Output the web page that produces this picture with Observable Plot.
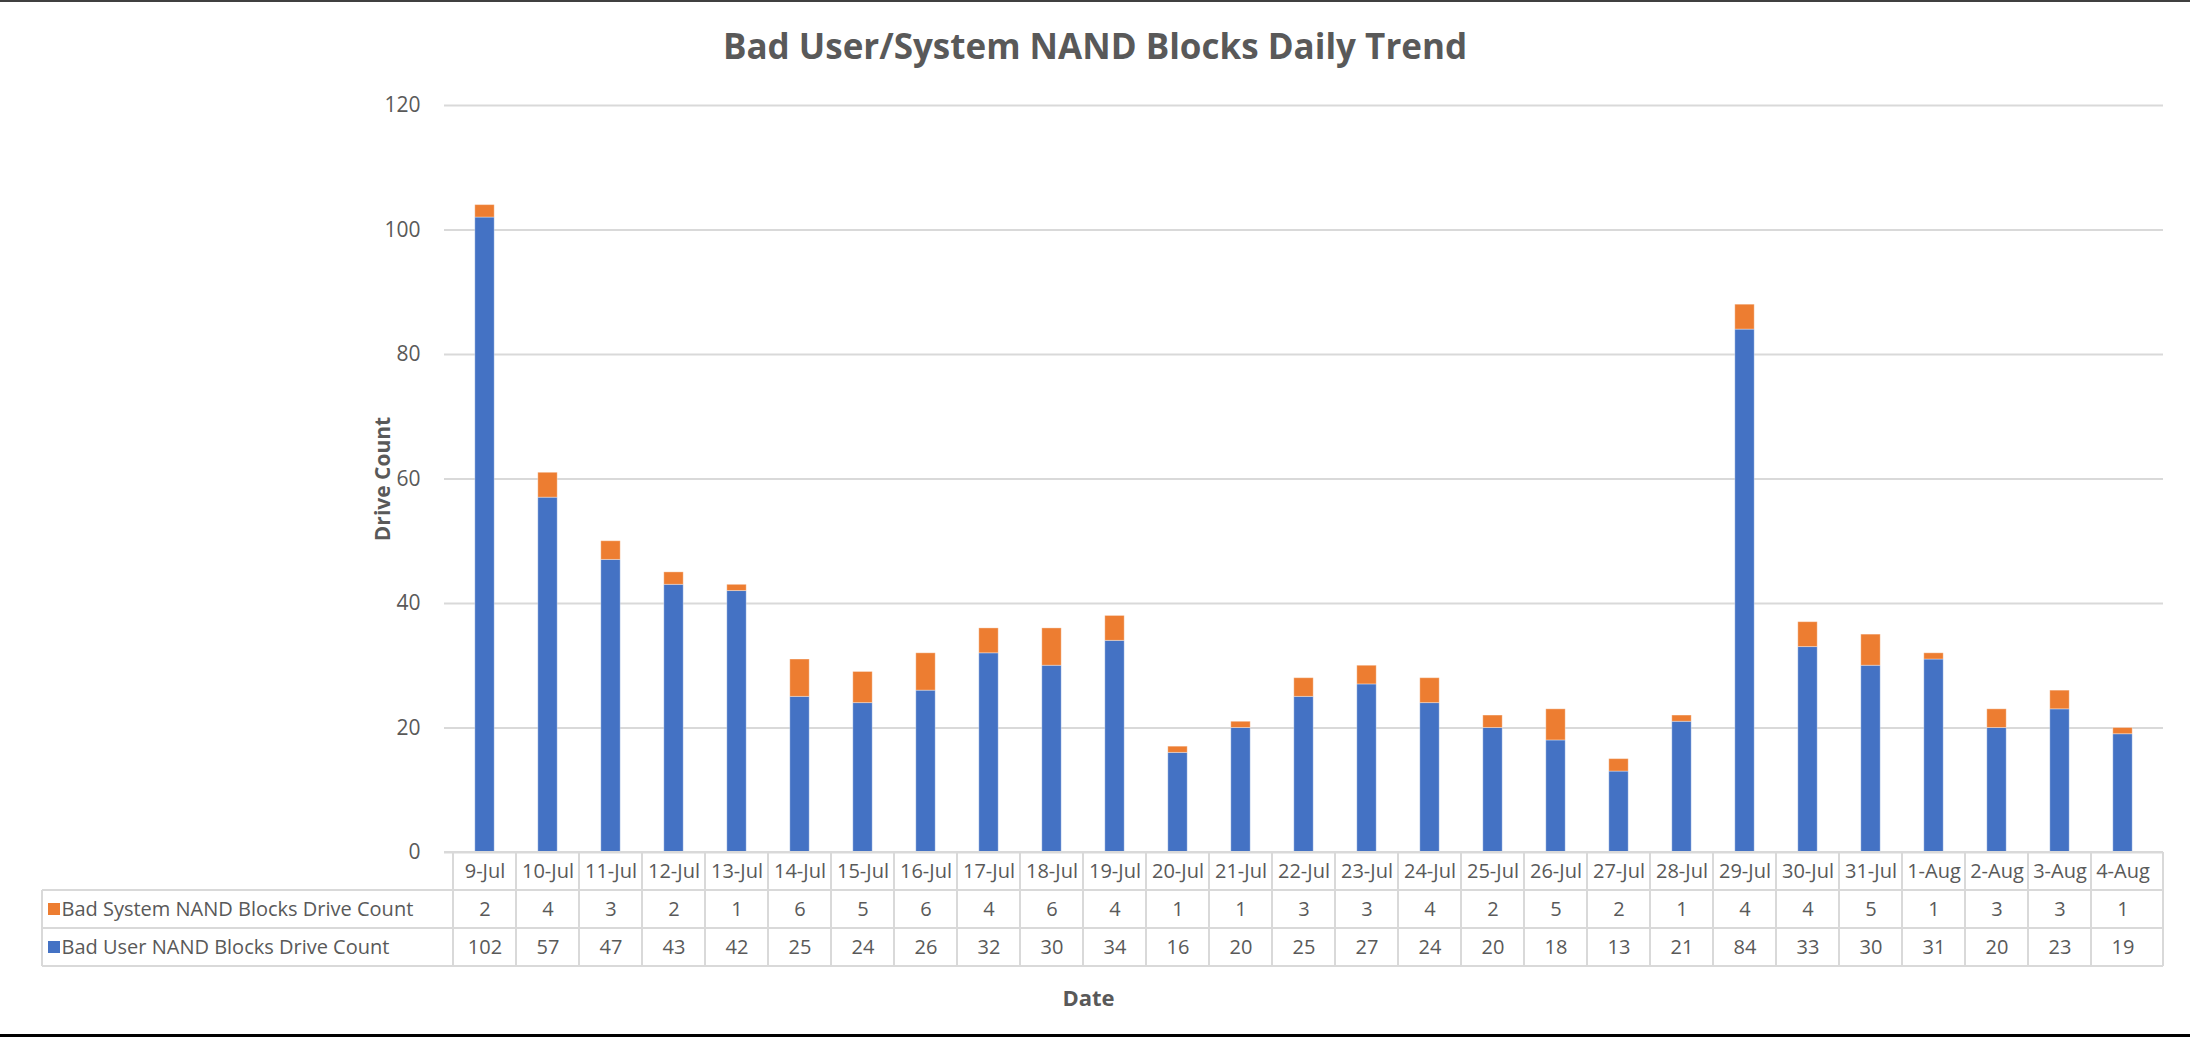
<!DOCTYPE html>
<html>
<head>
<meta charset="utf-8">
<script src="https://cdn.jsdelivr.net/npm/d3@7"></script>
<script src="https://cdn.jsdelivr.net/npm/@observablehq/plot@0.6"></script>
<style>
  html, body { margin: 0; padding: 0; background: #fff; overflow: hidden; }
  #wrap { position: relative; width: 2190px; height: 1038px; background: #fff; }
  #title { position: absolute; left: 1095px; top: 24px; transform: translateX(-50%); white-space: nowrap;
           font-family: "Open Sans", sans-serif; font-weight: bold; font-size: 35px; color: #595959; line-height: 44px; }
  #chart { position: absolute; left: 0; top: 90px; }
  .edge { position: absolute; left: 0; width: 2190px; }
</style>
</head>
<body>
<div id="wrap">
  <div class="edge" style="top:0;height:2px;background:#404040"></div>
  <div id="title">Bad User/System NAND Blocks Daily Trend</div>
  <div id="chart"></div>
  <div class="edge" style="top:1034px;height:3px;background:#000"></div>
</div>
<script>
const dates = ["9-Jul","10-Jul","11-Jul","12-Jul","13-Jul","14-Jul","15-Jul","16-Jul","17-Jul","18-Jul","19-Jul","20-Jul","21-Jul","22-Jul","23-Jul","24-Jul","25-Jul","26-Jul","27-Jul","28-Jul","29-Jul","30-Jul","31-Jul","1-Aug","2-Aug","3-Aug","4-Aug"];
const systemCounts = [2,4,3,2,1,6,5,6,4,6,4,1,1,3,3,4,2,5,2,1,4,4,5,1,3,3,1];
const userCounts = [102,57,47,43,42,25,24,26,32,30,34,16,20,25,27,24,20,18,13,21,84,33,30,31,20,23,19];
const seriesNames = ["Bad User NAND Blocks Drive Count", "Bad System NAND Blocks Drive Count"];
const seriesColors = ["#4472C4", "#ED7D31"];
const yTicks = [0, 20, 40, 60, 80, 100, 120];

const rows = [];
dates.forEach((d, i) => {
  rows.push({date: d, series: seriesNames[0], value: userCounts[i]});
  rows.push({date: d, series: seriesNames[1], value: systemCounts[i]});
});

const W = 2190, H = 948;
const mL = 444, mR = 27, mT = 15, mB = 186;
const rowH = 38;
const textColor = "#595959";
const lineColor = "#D9D9D9";
const fs = 20;

const tableText = (text, dy) => ({x: d => d, text, frameAnchor: "bottom", dy, lineAnchor: "middle", textAnchor: "middle", fontSize: fs, fill: textColor});

const chart = Plot.plot({
  width: W, height: H,
  marginLeft: mL, marginRight: mR, marginTop: mT, marginBottom: mB,
  style: {fontFamily: "Open Sans, sans-serif", fontSize: "20px", color: textColor, background: "white", overflow: "visible"},
  x: {domain: dates, padding: 0, axis: null},
  y: {domain: [0, 120], axis: null},
  color: {domain: seriesNames, range: seriesColors},
  marks: [
    Plot.gridY(yTicks, {stroke: lineColor, strokeOpacity: 1, strokeWidth: 2}),
    Plot.axisY(yTicks, {tickSize: 0, tickPadding: 24, label: null, fontSize: 21, fill: textColor}),
    Plot.barY(rows, Plot.stackY({order: null}, {x: "date", y: "value", fill: "series",
      insetLeft: 21.8, insetRight: 21.8, stroke: "white", strokeOpacity: 0.35, strokeWidth: 1})),
    // data table
    Plot.text(dates, tableText(d => d, rowH / 2)),
    Plot.text(dates, tableText((d, i) => systemCounts[i], rowH * 1.5)),
    Plot.text(dates, tableText((d, i) => userCounts[i], rowH * 2.5)),
    Plot.text([seriesNames[1]], {frameAnchor: "bottom-left", textAnchor: "start", lineAnchor: "middle", dx: 61 - mL, dy: rowH * 1.5, fontSize: fs, fill: textColor}),
    Plot.text([seriesNames[0]], {frameAnchor: "bottom-left", textAnchor: "start", lineAnchor: "middle", dx: 61 - mL, dy: rowH * 2.5, fontSize: fs, fill: textColor}),
    // axis titles
    Plot.text(["Drive Count"], {frameAnchor: "left", textAnchor: "middle", lineAnchor: "middle", rotate: -90, dx: -61, fontWeight: "bold", fontSize: 21, fill: textColor}),
    Plot.text(["Date"], {frameAnchor: "bottom", textAnchor: "middle", lineAnchor: "middle", dx: 1088 - (mL + (W - mR)) / 2, dy: 146, fontWeight: "bold", fontSize: 22, fill: textColor})
  ]
});

document.getElementById("chart").appendChild(chart);

// table grid lines from the x band scale
const xs = chart.scale("x");
const step = (xs.range[1] - xs.range[0]) / dates.length;
const xStart = d => (xs.apply ? xs.apply(d) : xs.range[0] + dates.indexOf(d) * step);
const yBottom = H - mB;
const tableLeft = 42;
const xEnd = W - mR;
const svg = d3.select(chart.tagName.toLowerCase() === "svg" ? chart : chart.querySelector("svg"));
const g = svg.append("g").attr("stroke", lineColor).attr("stroke-width", 2).attr("fill", "none");
[0, 1, 2, 3].forEach(k => {
  g.append("line").attr("x1", k === 0 ? mL : tableLeft).attr("x2", xEnd)
    .attr("y1", yBottom + k * rowH).attr("y2", yBottom + k * rowH);
});
dates.forEach(d => {
  const x = xStart(d);
  g.append("line").attr("x1", x).attr("x2", x).attr("y1", yBottom).attr("y2", yBottom + 3 * rowH);
});
g.append("line").attr("x1", xEnd).attr("x2", xEnd).attr("y1", yBottom).attr("y2", yBottom + 3 * rowH);
g.append("line").attr("x1", tableLeft).attr("x2", tableLeft).attr("y1", yBottom + rowH).attr("y2", yBottom + 3 * rowH);
// legend keys
[1, 0].forEach((s, k) => {
  svg.append("rect").attr("x", 48).attr("y", yBottom + rowH * (1.5 + k) - 6).attr("width", 12).attr("height", 12)
    .attr("fill", seriesColors[s]);
});
</script>
</body>
</html>
